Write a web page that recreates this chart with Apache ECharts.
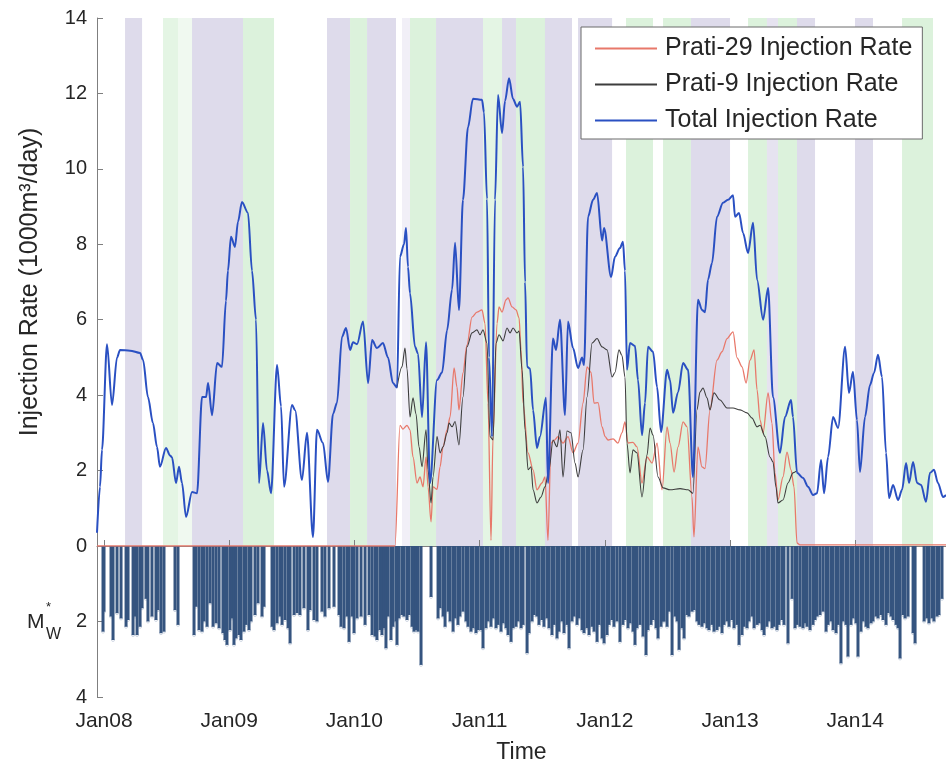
<!DOCTYPE html>
<html>
<head>
<meta charset="utf-8">
<script src="https://cdn.jsdelivr.net/npm/echarts@6.0.0/dist/echarts.min.js"></script>
<style>
  html, body { margin: 0; padding: 0; background: #fff; }
  #chart { width: 946px; height: 765px; }
</style>
</head>
<body>
<div id="chart"></div>
<script>
// time is in decimal years, rates in 1000 m3/day
const totalT = [2007.944,2007.968,2007.984,2008.024,2008.064,2008.104,2008.128,2008.208,2008.288,2008.312,2008.351,2008.391,2008.423,2008.447,2008.495,2008.527,2008.543,2008.575,2008.599,2008.623,2008.655,2008.703,2008.743,2008.783,2008.815,2008.831,2008.863,2008.903,2008.942,2008.974,2008.990,2009.014,2009.046,2009.070,2009.102,2009.150,2009.182,2009.214,2009.238,2009.270,2009.302,2009.334,2009.382,2009.414,2009.438,2009.502,2009.526,2009.581,2009.621,2009.669,2009.701,2009.749,2009.789,2009.829,2009.861,2009.901,2009.933,2009.965,2009.989,2010.021,2010.069,2010.109,2010.141,2010.180,2010.228,2010.268,2010.308,2010.340,2010.364,2010.396,2010.412,2010.428,2010.444,2010.484,2010.508,2010.540,2010.572,2010.604,2010.660,2010.700,2010.740,2010.780,2010.804,2010.835,2010.867,2010.907,2010.947,2011.019,2011.035,2011.059,2011.075,2011.099,2011.123,2011.147,2011.179,2011.203,2011.235,2011.267,2011.299,2011.323,2011.347,2011.363,2011.379,2011.403,2011.427,2011.458,2011.482,2011.530,2011.546,2011.586,2011.610,2011.642,2011.682,2011.706,2011.746,2011.786,2011.818,2011.834,2011.866,2011.906,2011.938,2011.978,2011.994,2012.050,2012.081,2012.121,2012.145,2012.161,2012.177,2012.201,2012.241,2012.265,2012.297,2012.321,2012.345,2012.385,2012.417,2012.449,2012.497,2012.521,2012.545,2012.585,2012.625,2012.665,2012.704,2012.744,2012.776,2012.800,2012.824,2012.856,2012.896,2012.944,2012.984,2013.024,2013.040,2013.072,2013.104,2013.144,2013.184,2013.216,2013.264,2013.304,2013.343,2013.399,2013.439,2013.487,2013.503,2013.535,2013.583,2013.623,2013.663,2013.695,2013.727,2013.751,2013.783,2013.823,2013.863,2013.919,2013.950,2013.982,2014.014,2014.038,2014.078,2014.118,2014.150,2014.182,2014.214,2014.246,2014.270,2014.302,2014.342,2014.374,2014.406,2014.430,2014.462,2014.494,2014.526,2014.565,2014.597,2014.629,2014.661,2014.701,2014.725];
const totalV = [0.35,1.57,2.55,5.35,3.74,5.0,5.2,5.18,5.12,4.93,3.95,3.26,2.63,2.1,2.6,2.4,2.35,1.67,2.1,1.67,0.77,1.43,1.4,3.95,3.95,4.32,3.47,4.85,4.75,6.5,7.3,8.2,7.93,8.6,9.12,8.83,7.3,6.0,1.67,3.26,2.0,1.4,4.8,3.7,1.57,3.74,3.6,1.75,3.0,0.24,3.08,2.73,1.7,3.5,3.8,5.55,5.78,5.2,5.4,5.35,5.95,4.32,5.46,5.25,5.38,5.0,4.32,4.2,7.67,8.0,8.43,7.4,6.7,5.28,5.1,3.42,5.4,1.67,4.4,4.6,5.72,6.8,8.04,6.26,9.18,11.1,11.86,11.83,11.5,9.2,5.0,2.9,9.18,11.96,10.95,11.8,12.4,11.85,11.65,11.78,10.05,7.0,4.75,4.7,3.6,2.6,2.9,3.93,1.67,5.5,5.2,6.0,3.47,5.95,5.25,4.72,5.0,4.8,8.73,9.18,9.36,8.1,8.43,7.13,7.67,7.9,8.07,7.3,4.67,5.38,5.3,4.4,2.94,3.79,5.28,5.15,4.22,3.02,4.67,4.4,3.53,4.08,4.85,4.67,1.83,6.53,6.26,6.2,7.06,7.5,8.73,9.1,9.18,9.3,8.73,8.83,8.3,7.77,8.57,7.06,6.0,6.84,3.95,2.47,3.42,3.87,3.42,1.94,1.8,1.57,1.35,1.4,2.28,1.4,2.36,3.42,3.13,5.28,4.06,4.62,3.34,1.96,3.42,4.27,4.59,5.07,4.48,2.47,1.27,1.62,1.22,1.49,2.2,1.67,2.23,1.67,1.62,1.17,1.94,2.02,1.67,1.3,1.35];

const p29T = [2007.944,2010.324,2010.364,2010.388,2010.420,2010.444,2010.468,2010.500,2010.524,2010.548,2010.572,2010.588,2010.612,2010.628,2010.660,2010.684,2010.708,2010.740,2010.764,2010.796,2010.819,2010.835,2010.867,2010.899,2010.939,2010.979,2011.019,2011.043,2011.067,2011.091,2011.107,2011.139,2011.155,2011.179,2011.211,2011.227,2011.259,2011.291,2011.315,2011.331,2011.347,2011.387,2011.427,2011.458,2011.498,2011.522,2011.546,2011.570,2011.594,2011.626,2011.666,2011.706,2011.746,2011.786,2011.826,2011.858,2011.890,2011.914,2011.946,2011.978,2012.002,2012.026,2012.066,2012.105,2012.137,2012.161,2012.185,2012.225,2012.257,2012.297,2012.337,2012.377,2012.417,2012.457,2012.497,2012.521,2012.553,2012.585,2012.625,2012.657,2012.696,2012.712,2012.744,2012.776,2012.800,2012.840,2012.896,2012.936,2012.976,2013.024,2013.056,2013.096,2013.128,2013.160,2013.192,2013.216,2013.240,2013.264,2013.304,2013.335,2013.359,2013.383,2013.423,2013.455,2013.487,2013.511,2013.535,2013.559,2014.725];
const p29V = [0,0,3.2,3.1,3.2,3.08,2.36,1.67,1.83,1.57,2.36,1.57,0.64,1.57,1.5,2.1,2.63,3.08,3.42,4.72,4.22,3.61,4.59,5.33,6.07,6.2,6.26,5.9,3.79,0.15,2.9,5.9,6.34,6.2,6.53,6.58,6.34,6.26,6.05,5.2,3.79,2.47,2.02,1.49,1.67,1.83,0.15,2.73,2.8,2.9,2.73,2.9,2.47,2.73,3.79,4.75,4.6,3.79,3.8,3.16,2.9,2.81,2.84,2.73,3.0,3.29,2.73,2.75,2.63,1.67,2.36,2.2,2.73,1.49,3.16,2.73,1.96,2.63,3.29,3.16,1.3,0.24,2.63,2.1,2.05,3.61,4.93,5.15,5.5,5.68,4.99,4.75,4.32,4.93,5.2,4.14,3.34,3.0,4.06,3.26,1.94,1.22,1.83,2.49,2.02,1.57,0.08,0.03,0.03];

const p9T = [2010.340,2010.380,2010.404,2010.420,2010.444,2010.468,2010.492,2010.516,2010.540,2010.572,2010.588,2010.612,2010.628,2010.660,2010.684,2010.708,2010.740,2010.756,2010.780,2010.804,2010.835,2010.867,2010.899,2010.939,2010.979,2011.003,2011.027,2011.059,2011.083,2011.107,2011.131,2011.155,2011.187,2011.219,2011.243,2011.267,2011.299,2011.315,2011.339,2011.363,2011.387,2011.411,2011.427,2011.458,2011.490,2011.522,2011.554,2011.586,2011.618,2011.642,2011.666,2011.698,2011.730,2011.762,2011.786,2011.826,2011.858,2011.898,2011.938,2011.978,2012.018,2012.058,2012.081,2012.113,2012.137,2012.161,2012.177,2012.201,2012.225,2012.257,2012.297,2012.337,2012.361,2012.385,2012.425,2012.465,2012.521,2012.601,2012.665,2012.704,2012.736,2012.760,2012.784,2012.816,2012.840,2012.872,2012.920,2012.976,2013.024,2013.080,2013.136,2013.176,2013.216,2013.240,2013.280,2013.319,2013.343,2013.367,2013.383,2013.423,2013.463,2013.503,2013.535];
const p9V = [4.2,4.75,5.25,4.7,3.42,3.93,3.5,2.63,2.1,3.08,2.02,1.14,1.83,2.9,2.47,2.63,3.0,3.26,3.16,3.3,2.68,3.95,5.28,5.65,5.73,5.6,5.73,5.38,2.9,2.81,5.38,5.6,5.44,5.78,5.65,5.78,5.65,5.7,4.67,3.08,2.02,2.1,1.49,1.14,1.3,1.57,2.02,2.81,2.63,3.08,1.83,3.05,3.0,2.2,1.83,2.55,3.95,5.38,5.5,5.28,5.2,4.48,4.6,5.2,5.05,4.48,2.73,1.94,2.55,2.47,1.3,2.41,3.13,2.94,1.83,1.54,1.49,1.52,1.49,1.4,3.61,4.08,4.19,3.93,3.61,4.06,3.87,3.66,3.66,3.61,3.53,3.39,3.16,3.2,2.9,2.36,2.23,1.57,1.14,1.22,1.67,1.94,2.0];

// earthquake events: time and magnitude M*w
const eqT = [2007.992,2008.000,2008.056,2008.072,2008.104,2008.136,2008.176,2008.192,2008.232,2008.248,2008.264,2008.288,2008.304,2008.335,2008.351,2008.383,2008.415,2008.431,2008.455,2008.479,2008.567,2008.591,2008.719,2008.735,2008.759,2008.783,2008.799,2008.823,2008.847,2008.871,2008.895,2008.919,2008.950,2008.966,2008.982,2009.006,2009.022,2009.038,2009.054,2009.078,2009.094,2009.118,2009.134,2009.158,2009.174,2009.206,2009.230,2009.262,2009.278,2009.342,2009.358,2009.382,2009.406,2009.422,2009.446,2009.470,2009.486,2009.518,2009.542,2009.565,2009.597,2009.629,2009.645,2009.677,2009.701,2009.741,2009.765,2009.797,2009.837,2009.877,2009.893,2009.917,2009.941,2009.957,2009.981,2009.997,2010.021,2010.053,2010.085,2010.117,2010.141,2010.165,2010.180,2010.204,
  2010.220,2010.236,2010.252,2010.268,2010.292,2010.308,2010.332,2010.340,2010.356,2010.380,2010.396,2010.420,2010.436,2010.460,2010.476,2010.492,2010.508,2010.532,2010.612,2010.668,2010.684,2010.708,2010.724,2010.748,2010.764,2010.788,2010.804,2010.827,2010.843,2010.867,2010.891,2010.907,2010.931,2010.947,2010.971,2010.987,2011.011,2011.027,2011.051,2011.067,2011.091,2011.107,2011.131,2011.147,2011.171,2011.187,2011.211,2011.227,2011.251,2011.267,2011.291,2011.307,2011.331,2011.347,2011.379,2011.395,2011.419,2011.435,2011.458,2011.474,2011.498,2011.514,2011.538,2011.554,2011.578,2011.594,2011.618,2011.634,2011.658,2011.674,2011.698,2011.714,2011.738,2011.754,2011.778,2011.794,2011.818,2011.834,2011.858,2011.874,2011.898,2011.914,2011.938,2011.954,2011.978,2011.994,2012.018,2012.034,2012.058,2012.073,2012.097,2012.121,2012.145,2012.161,2012.185,2012.201,2012.225,2012.241,2012.257,2012.281,2012.305,2012.329,2012.345,2012.369,2012.385,2012.409,2012.425,2012.449,
  2012.465,2012.473,2012.497,2012.513,2012.537,2012.561,2012.577,2012.593,2012.617,2012.633,2012.657,2012.672,2012.696,2012.712,2012.736,2012.752,2012.776,2012.792,2012.816,2012.832,2012.856,2012.872,2012.896,2012.912,2012.936,2012.952,2012.976,2012.992,2013.016,2013.032,2013.056,2013.072,2013.096,2013.112,2013.136,2013.152,2013.176,2013.192,2013.216,2013.232,2013.256,2013.272,2013.295,2013.311,2013.335,2013.351,2013.375,2013.391,2013.415,2013.431,2013.463,2013.495,2013.519,2013.535,2013.559,2013.583,2013.599,2013.615,2013.639,2013.663,2013.679,2013.695,2013.719,2013.743,2013.767,2013.783,2013.807,2013.823,2013.847,2013.863,2013.886,2013.902,2013.926,2013.942,2013.966,2013.982,2014.006,2014.022,2014.046,2014.062,2014.086,2014.102,2014.126,2014.142,2014.166,2014.182,2014.206,2014.222,2014.246,2014.262,2014.286,2014.302,2014.326,2014.342,2014.358,2014.382,2014.398,2014.422,2014.462,2014.478,2014.550,2014.573,2014.589,2014.613,2014.629,2014.653,2014.669,2014.693];
const eqM = [2.27,1.74,1.87,2.49,1.78,1.92,2.14,1.96,2.36,1.87,2.36,2.14,1.65,1.4,2.0,1.87,1.96,1.7,2.31,2.27,1.7,2.09,2.36,1.61,2.23,2.27,2.0,2.14,1.52,2.14,2.05,2.18,2.31,2.49,2.62,2.23,1.92,2.62,2.45,2.36,2.49,2.27,2.09,2.23,2.0,1.83,1.52,1.87,1.61,2.14,2.23,2.05,1.87,2.09,1.96,2.18,2.58,1.83,1.78,1.83,1.65,2.23,1.7,1.96,2.0,1.74,1.87,1.65,1.61,1.83,2.14,2.18,1.87,2.54,1.87,2.31,1.92,1.87,2.09,1.83,2.36,2.4,2.49,2.23,
  2.36,2.18,2.71,1.87,2.49,2.14,2.0,2.62,1.92,1.83,1.87,1.96,1.83,2.14,2.27,2.23,2.27,3.15,1.35,1.92,1.65,1.87,2.14,1.74,2.0,2.27,1.92,2.09,1.87,1.74,2.0,2.14,2.27,2.18,2.31,2.23,2.23,2.71,2.18,2.0,2.14,1.92,2.18,2.09,2.27,2.05,2.18,2.36,2.54,2.18,2.14,2.0,2.18,2.09,2.84,2.31,2.0,1.83,1.87,2.09,1.96,2.14,1.92,2.18,2.36,2.09,2.45,2.27,2.0,2.31,2.09,2.71,2.0,1.87,2.09,1.92,2.23,2.31,2.18,2.36,2.14,2.27,2.54,2.09,2.45,2.58,2.36,2.09,1.96,2.14,2.0,2.54,2.09,1.96,2.18,2.05,2.27,2.62,2.18,2.09,2.4,2.89,2.23,2.09,1.96,2.18,2.45,2.14,
  2.0,2.0,2.14,1.74,2.89,1.87,2.0,2.75,2.18,2.45,1.83,1.87,1.74,1.7,2.0,2.09,2.14,2.05,2.18,2.23,2.09,2.27,2.23,2.14,2.31,2.09,2.0,2.14,1.96,2.18,2.09,2.62,2.36,2.14,2.18,2.0,1.87,2.18,2.09,2.05,2.23,2.36,2.14,2.0,2.18,2.14,2.23,2.09,1.96,2.09,2.58,1.4,2.18,2.09,2.14,2.18,2.05,2.14,2.23,2.09,1.96,1.87,1.83,1.74,2.27,2.09,2.0,2.23,2.31,2.09,3.11,2.0,2.09,2.93,2.09,1.92,2.05,2.93,2.27,2.0,2.14,2.18,2.05,2.0,1.87,1.92,1.83,1.96,2.09,1.78,1.87,1.96,2.09,2.18,2.98,1.83,1.92,1.87,2.31,2.58,2.0,1.92,2.05,1.92,2.0,1.87,1.83,1.4];

// shaded periods: p = purple, g = green, lg/vlg = lighter green, fp/lp = lighter purple
const bandStart = [2008.168,2008.471,2008.591,2008.703,2009.110,2009.781,2009.965,2010.101,2010.380,2010.444,2010.652,2011.027,2011.179,2011.291,2011.522,2011.786,2012.169,2012.465,2012.688,2013.144,2013.295,2013.383,2013.535,2013.998,2014.374];
const bandEnd   = [2008.304,2008.591,2008.703,2009.110,2009.358,2009.965,2010.101,2010.332,2010.444,2010.652,2011.027,2011.179,2011.291,2011.522,2011.738,2012.058,2012.385,2012.688,2013.000,2013.295,2013.383,2013.535,2013.679,2014.142,2014.621];
const bandKind  = ['p','lg','vlg','p','g','p','g','p','fp','g','p','lg','p','g','p','p','g','g','p','g','lp','g','p','p','g'];

const tickYears = [2008,2009,2010,2011,2012,2013,2014];
const xMin = 2007.944, xMax = 2014.725;

const bandColors = {p:'#dedbeb', g:'#dcf2dc', lg:'#e4f5e4', vlg:'#f0f9f0', fp:'#f1eff7', lp:'#e6e3f0'};
const axisGray = '#7f7f7f';
const txt = '#262626';
const font = 'Liberation Sans, Arial, sans-serif';

const pair = (t, v) => t.map((x, i) => [x, v[i]]);

const chart = echarts.init(document.getElementById('chart'), null, {renderer: 'canvas'});

chart.setOption({
  animation: false,
  backgroundColor: '#fff',
  textStyle: {fontFamily: font, color: txt},
  grid: [
    {left: 97, right: 0, top: 18, height: 528},
    {left: 97, right: 0, top: 546, height: 151}
  ],
  legend: {
    data: ['Prati-29 Injection Rate', 'Prati-9 Injection Rate', 'Total Injection Rate'],
    orient: 'vertical',
    left: 581, top: 27,
    padding: [9, 10, 6, 14],
    itemWidth: 62, itemHeight: 2,
    itemGap: 11,
    icon: 'rect',
    backgroundColor: '#fff',
    borderColor: '#6b6b6b', borderWidth: 1, borderRadius: 0,
    textStyle: {fontSize: 25, color: txt, fontFamily: font, lineHeight: 24, padding: [0, 0, 0, 3]}
  },
  xAxis: [
    {type: 'value', gridIndex: 0, min: xMin, max: xMax, show: false, splitLine: {show: false}},
    {type: 'value', gridIndex: 1, min: xMin, max: xMax,
     name: 'Time', nameLocation: 'middle', nameGap: 44,
     nameTextStyle: {fontSize: 23, color: txt},
     axisLine: {lineStyle: {color: axisGray, width: 1}},
     axisTick: {inside: true, length: 6, lineStyle: {color: axisGray}, customValues: tickYears},
     axisLabel: {fontSize: 21, color: txt, margin: 14, customValues: tickYears,
       formatter: v => 'Jan' + String(Math.round(v)).slice(2)},
     splitLine: {show: false}}
  ],
  yAxis: [
    {type: 'value', gridIndex: 0, min: 0, max: 14, interval: 2,
     name: 'Injection Rate (1000m³/day)', nameLocation: 'middle', nameGap: 54,
     nameTextStyle: {fontSize: 25, color: txt},
     axisLine: {show: true, lineStyle: {color: axisGray}},
     axisTick: {show: true, inside: true, length: 6, lineStyle: {color: axisGray}},
     axisLabel: {fontSize: 20, color: txt, margin: 10},
     splitLine: {show: false}},
    {type: 'value', gridIndex: 1, min: 0, max: 4, interval: 2, inverse: true,
     axisLine: {show: true, lineStyle: {color: axisGray}},
     axisTick: {show: true, inside: true, length: 6, lineStyle: {color: axisGray}},
     axisLabel: {fontSize: 20, color: txt, margin: 10, showMinLabel: false},
     splitLine: {show: false}}
  ],
  graphic: [
    {type: 'text', left: 27, top: 612, style: {text: 'M', fontSize: 21, fill: txt, fontFamily: font}},
    {type: 'text', left: 46, top: 601, style: {text: '*', fontSize: 13, fill: txt, fontFamily: font}},
    {type: 'text', left: 46, top: 627, style: {text: 'W', fontSize: 16, fill: txt, fontFamily: font}}
  ],
  series: [
    {
      type: 'custom', name: 'periods', xAxisIndex: 0, yAxisIndex: 0, z: 0, silent: true,
      data: bandStart.map((s, i) => [s, bandEnd[i], i]),
      encode: {x: [0, 1]},
      renderItem: (params, api) => {
        const a = api.coord([api.value(0), 14]);
        const b = api.coord([api.value(1), 0]);
        return {type: 'rect', shape: {x: a[0], y: a[1], width: b[0] - a[0], height: b[1] - a[1]},
                style: {fill: bandColors[bandKind[api.value(2)]]}};
      }
    },
    {
      type: 'line', name: 'Prati-29 Injection Rate', xAxisIndex: 0, yAxisIndex: 0, z: 3,
      data: pair(p29T, p29V), showSymbol: false, smooth: 0.3, smoothMonotone: 'x',
      color: '#e8786a', lineStyle: {width: 1.3, color: '#e8786a'}
    },
    {
      type: 'line', name: 'Prati-9 Injection Rate', xAxisIndex: 0, yAxisIndex: 0, z: 4,
      data: pair(p9T, p9V), showSymbol: false, smooth: 0.3, smoothMonotone: 'x',
      color: '#3d3d3d', lineStyle: {width: 1.1, color: '#3d3d3d'}
    },
    {
      type: 'line', name: 'Total Injection Rate', xAxisIndex: 0, yAxisIndex: 0, z: 5,
      data: pair(totalT, totalV), showSymbol: false, smooth: 0.3, smoothMonotone: 'x',
      color: '#2a50c2', lineStyle: {width: 2, color: '#2a50c2'}
    },
    {
      type: 'bar', name: 'events', xAxisIndex: 1, yAxisIndex: 1, z: 2,
      data: pair(eqT, eqM), barWidth: 3,
      itemStyle: {color: '#35547f'}, silent: true
    },
    {
      type: 'scatter', name: 'eventTips', xAxisIndex: 1, yAxisIndex: 1, z: 1,
      data: pair(eqT, eqM), symbol: 'circle', symbolSize: 3, silent: true,
      itemStyle: {color: 'rgba(0,0,0,0)', borderColor: '#b8c3d4', borderWidth: 0.8}
    }
  ]
});
</script>
</body>
</html>
